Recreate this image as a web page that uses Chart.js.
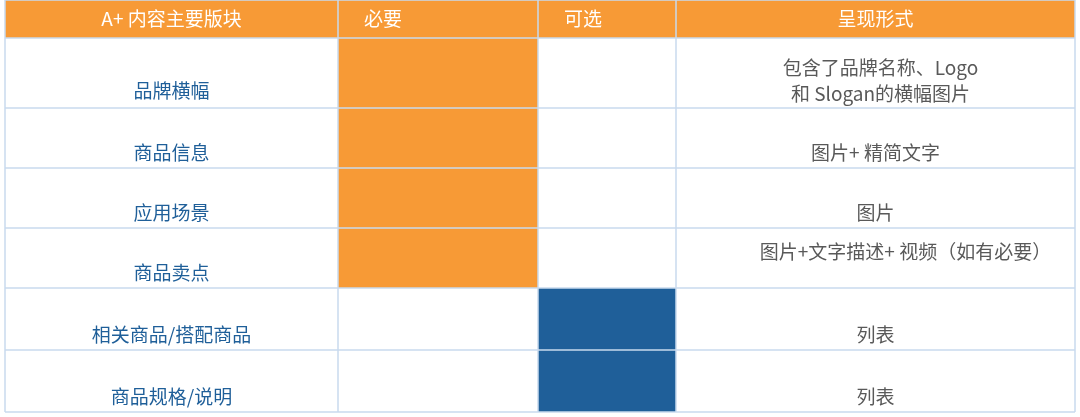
<!DOCTYPE html>
<html><head><meta charset="utf-8">
<script src="https://cdn.jsdelivr.net/npm/chart.js@4/dist/chart.umd.min.js"></script>
<style>html,body{margin:0;padding:0;background:#fff}#wrap{width:1080px;height:417px}</style>
</head><body><div id="wrap"><canvas id="c"></canvas></div>
<script>
const headers = ["A+ 内容主要版块", "必要", "可选", "呈现形式"];
const sections = ["品牌横幅", "商品信息", "应用场景", "商品卖点", "相关商品/搭配商品", "商品规格/说明"];
const required = [1, 1, 1, 1, 0, 0];
const optional = [0, 0, 0, 0, 1, 1];
const forms = [["包含了品牌名称、Logo", "和 Slogan的横幅图片"], ["图片+ 精简文字"], ["图片"], ["图片+文字描述+ 视频（如有必要）"], ["列表"], ["列表"]];
const colEdges = [0, 333, 533, 671, 1070];
const rowEdges = [0, 38, 108, 168, 228, 288, 350, 412];

const ORANGE = '#F79A36', BLUE = '#1F5F99', LINE = '#C9DAEE';
const FONT = '"Noto Sans CJK SC", "Open Sans", sans-serif';

const tablePlugin = {
  id: 'table',
  afterDraw(chart) {
    const ctx = chart.ctx, xs = chart.scales.x, ys = chart.scales.y;
    const X = v => xs.getPixelForValue(v), Y = v => ys.getPixelForValue(v);
    ctx.save();
    // header
    ctx.fillStyle = ORANGE;
    ctx.fillRect(X(colEdges[0]), Y(rowEdges[0]), X(colEdges[4]) - X(colEdges[0]), Y(rowEdges[1]) - Y(rowEdges[0]));
    // cells
    for (let i = 0; i < sections.length; i++) {
      const y0 = Y(rowEdges[i + 1]), y1 = Y(rowEdges[i + 2]);
      if (required[i]) { ctx.fillStyle = ORANGE; ctx.fillRect(X(colEdges[1]), y0, X(colEdges[2]) - X(colEdges[1]), y1 - y0); }
      if (optional[i]) { ctx.fillStyle = BLUE; ctx.fillRect(X(colEdges[2]), y0, X(colEdges[3]) - X(colEdges[2]), y1 - y0); }
    }
    // lines
    ctx.strokeStyle = LINE; ctx.lineWidth = 1.5;
    rowEdges.forEach(r => { ctx.beginPath(); ctx.moveTo(X(colEdges[0]), Y(r)); ctx.lineTo(X(colEdges[4]), Y(r)); ctx.stroke(); });
    colEdges.forEach(c => { ctx.beginPath(); ctx.moveTo(X(c), Y(rowEdges[0])); ctx.lineTo(X(c), Y(rowEdges[7])); ctx.stroke(); });
    // header text
    ctx.font = '19px ' + FONT; ctx.textBaseline = 'middle'; ctx.fillStyle = '#fff';
    const hy = (Y(rowEdges[0]) + Y(rowEdges[1])) / 2;
    ctx.textAlign = 'center'; ctx.fillText(headers[0], (X(colEdges[0]) + X(colEdges[1])) / 2, hy);
    ctx.textAlign = 'left'; ctx.fillText(headers[1], X(colEdges[1]) + 26, hy);
    ctx.fillText(headers[2], X(colEdges[2]) + 26, hy);
    ctx.textAlign = 'center'; ctx.fillText(headers[3], (X(colEdges[3]) + X(colEdges[4])) / 2, hy);
    // body text
    for (let i = 0; i < sections.length; i++) {
      const y0 = Y(rowEdges[i + 1]), y1 = Y(rowEdges[i + 2]);
      const ty = y0 + (y1 - y0) * 0.75;
      ctx.fillStyle = BLUE; ctx.textAlign = 'center';
      ctx.fillText(sections[i], (X(colEdges[0]) + X(colEdges[1])) / 2, ty);
      ctx.fillStyle = '#595959';
      const cx = (X(colEdges[3]) + X(colEdges[4])) / 2;
      const f = forms[i];
      if (f.length === 2) {
        ctx.fillText(f[0], cx + 5, y0 + 30); ctx.fillText(f[1], cx + 5, y0 + 56);
      } else if (i === 3) {
        ctx.fillText(f[0], cx + 30, y0 + 24);
      } else {
        ctx.fillText(f[0], cx, ty);
      }
    }
    ctx.restore();
  }
};

new Chart(document.getElementById('c'), {
  type: 'scatter',
  data: { datasets: [{ data: [], pointRadius: 0 }] },
  options: {
    responsive: true, maintainAspectRatio: false, animation: false,
    layout: { padding: { left: 5, right: 5, top: 0, bottom: 5 } },
    plugins: { legend: { display: false }, tooltip: { enabled: false } },
    scales: {
      x: { type: 'linear', min: colEdges[0], max: colEdges[4], display: false },
      y: { type: 'linear', min: rowEdges[0], max: rowEdges[7], reverse: true, display: false }
    }
  },
  plugins: [tablePlugin]
});
</script></body></html>
